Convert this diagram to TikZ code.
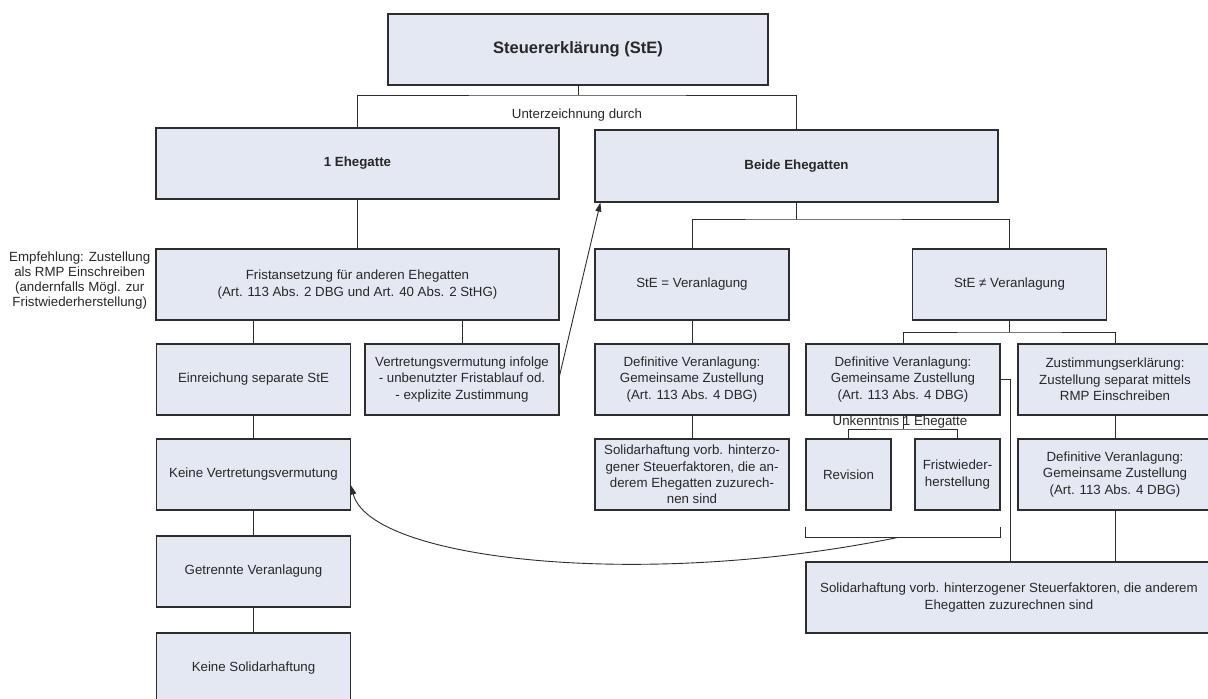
\documentclass[tikz,border=0pt]{standalone}
\usepackage{fontspec}
\setmainfont{Liberation Sans}
\usepackage{xcolor}
\usetikzlibrary{positioning,arrows.meta,calc}
\definecolor{boxfill}{RGB}{228,232,242}
\definecolor{boxline}{RGB}{45,45,45}
\definecolor{txt}{RGB}{40,40,40}

\begin{document}
\begin{tikzpicture}[
    x=1pt, y=-1pt,
    box/.style={draw=boxline, line width=1.2pt, fill=boxfill, minimum width=194pt, minimum height=71pt, inner sep=2pt, align=center, text=txt, font=\fontsize{13.3}{16.3}\selectfont},
    wide/.style={box, minimum width=403pt},
    slim/.style={box, minimum width=85pt},
    head/.style={font=\bfseries\fontsize{13.3}{16}\selectfont},
    link/.style={draw=boxline, line width=0.9pt},
    arrow/.style={link, -{Triangle[length=9pt, width=6pt]}},
    lbl/.style={text=txt, font=\fontsize{13.3}{15}\selectfont, inner sep=0pt, align=center}
]
\useasboundingbox (0,0) rectangle (1208,699);

% tax return and who signs it
\node[box, minimum width=380pt, font=\bfseries\fontsize{16.5}{20}\selectfont] (ste) at (578,49.5) {Steuererklärung (StE)};
\node[wide, head] (one) at (357.5,163.5) {1 Ehegatte};
\node[wide, head, minimum height=72pt] (both) at (796.5,166) {Beide Ehegatten};

% left branch
\node[wide] (frist) at (357.5,284.5) {Fristansetzung für anderen Ehegatten\\(Art. 113 Abs. 2 DBG und Art. 40 Abs. 2 StHG)};
\node[lbl, left=5pt of frist.west, yshift=4pt] (hint) {Empfehlung: Zustellung\\als RMP Einschreiben\\(andernfalls Mögl. zur\\Fristwiederherstellung)};
\node[box] (separate) at (253.5,379.5) {Einreichung separate StE};
\node[box] (presume) at (462,379.5) {Vertretungsvermutung infolge\\- unbenutzter Fristablauf od.\\- explizite Zustimmung};
\node[box] (nopresume) at (253.5,474.5) {Keine Vertretungsvermutung};
\node[box] (apart) at (253.5,571.5) {Getrennte Veranlagung};
\node[box] (noliab) at (253.5,668.5) {Keine Solidarhaftung};

% right branch
\node[box] (equal) at (692,284.5) {StE = Veranlagung};
\node[box] (final) at (692,379.5) {Definitive Veranlagung:\\Gemeinsame Zustellung\\(Art. 113 Abs. 4 DBG)};
\node[box] (liab) at (692,474.5) {Solidarhaftung vorb. hinterzo-\\gener Steuerfaktoren, die an-\\derem Ehegatten zuzurech-\\nen sind};
\node[box] (unequal) at (1009.5,284.5) {StE ≠ Veranlagung};
\node[box] (finaljoint) at (903,379.5) {Definitive Veranlagung:\\Gemeinsame Zustellung\\(Art. 113 Abs. 4 DBG)};
\node[box] (consent) at (1115,379.5) {Zustimmungserklärung:\\Zustellung separat mittels\\RMP Einschreiben};
\node[slim] (revision) at (848.5,474.5) {Revision};
\node[slim] (restore) at (957.5,474.5) {Fristwieder-\\herstellung};
\node[box] (finalsep) at (1115,474.5) {Definitive Veranlagung:\\Gemeinsame Zustellung\\(Art. 113 Abs. 4 DBG)};
\node[box, minimum width=406pt] (liabbig) at (1009,597.5) {Solidarhaftung vorb. hinterzogener Steuerfaktoren, die anderem\\Ehegatten zuzurechnen sind};

% connectors
\coordinate (sign) at (578,95);
\draw[link] (ste) -- (sign);
\draw[link] (one.north) |- (sign) -| (both.north);
\node[lbl] (signlbl) at (577,115) {Unterzeichnung durch};

\draw[link] (one) -- (frist);
\draw[link] (frist.south -| separate.north) -- (separate);
\draw[link] (frist.south -| presume.north) -- (presume);
\draw[link] (separate) -- (nopresume);
\draw[link] (nopresume) -- (apart);
\draw[link] (apart) -- (noliab);
\draw[arrow] ([yshift=4pt]presume.east) -- ([xshift=6pt]both.south west);

\coordinate (split) at (796.5,219);
\draw[link] (both) -- (split);
\draw[link] (equal.north) |- (split) -| (unequal.north);
\draw[link] (equal) -- (final);
\draw[link] (final) -- (liab);

\coordinate (split2) at (1009.5,332);
\draw[link] (unequal) -- (split2);
\draw[link] (finaljoint.north) |- (split2) -| (consent.north);
\draw[link] (consent) -- (finalsep);
\draw[link] (finalsep.south) -- (finalsep.south |- liabbig.north);
\draw[link] (finaljoint.east) -| ([xshift=1pt]liabbig.north);

\coordinate (unk) at (903,429);
\node[lbl] (unklbl) at (900,422) {Unkenntnis 1 Ehegatte};
\draw[link] (finaljoint) -- (unk);
\draw[link] (revision.north) |- (unk) -| (restore.north);

% bracket and back arrow
\coordinate (brl) at ([yshift=-27pt]revision.south west);
\coordinate (brr) at ([yshift=-27pt]restore.south east);
\draw[link] ([yshift=-16pt]revision.south west) -- (brl) -- (brr) -- ([yshift=-16pt]restore.south east);
\draw[arrow] ($(brl)!0.47!(brr)$) .. controls (640,590) and (370,560) .. ([yshift=-11pt]nopresume.east);
\end{tikzpicture}
\end{document}
